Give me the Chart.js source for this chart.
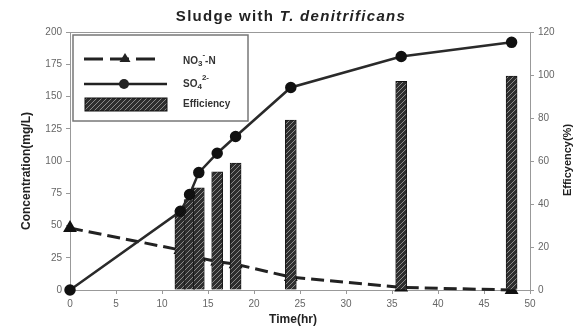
<!DOCTYPE html>
<html>
<head>
<meta charset="utf-8">
<script src="https://cdn.jsdelivr.net/npm/chart.js@4"></script>
<style>
  html, body { margin: 0; padding: 0; background: #fff; }
  #wrap { width: 580px; height: 327px; }
</style>
</head>
<body>
<div id="wrap"><canvas id="sludgeChart" width="580" height="327"></canvas></div>
<script>
// sampling times (hr)
const times = [0, 12, 13, 14, 16, 18, 24, 36, 48];
// nitrate and sulfate concentration (mg/L)
const no3Values = [48, 31, 28, 25, 22, 20, 10, 2, 0];
const so4Values = [0, 61, 74, 91, 106, 119, 157, 181, 192];
// removal efficiency (%), measured from 12 hr on
const effTimes = [12, 13, 14, 16, 18, 24, 36, 48];
const effValues = [37, 42, 47.5, 55, 59, 79, 97, 99.5];

const xTicks = [0, 5, 10, 15, 20, 25, 30, 35, 40, 45, 50];

// hatched fill for the efficiency bars
function makeHatch() {
    const c = document.createElement('canvas');
    c.width = 5; c.height = 5;
    const g = c.getContext('2d');
    g.fillStyle = '#2e2e2e';
    g.fillRect(0, 0, 5, 5);
    g.strokeStyle = '#8a8a8a';
    g.lineWidth = 1;
    g.beginPath();
    g.moveTo(0, 5); g.lineTo(5, 0);
    g.moveTo(-1, 1); g.lineTo(1, -1);
    g.moveTo(4, 6); g.lineTo(6, 4);
    g.stroke();
    return g.createPattern(c, 'repeat');
}

const ctx = document.getElementById('sludgeChart').getContext('2d');
const hatch = makeHatch();

// text with sub/superscript pieces: [text, 'n'|'sub'|'sup']
function drawRich(g, parts, x, y) {
    let cx = x;
    parts.forEach(function (p) {
        const small = p[1] !== 'n';
        g.font = small ? 'bold 8px "Liberation Sans", Arial' : 'bold 10px "Liberation Sans", Arial';
        const dy = p[1] === 'sub' ? 3 : (p[1] === 'sup' ? -6 : 0);
        g.fillText(p[0], cx, y + dy);
        cx += g.measureText(p[0]).width;
    });
}

const decorations = {
    id: 'decorations',
    afterDraw: function (chart) {
        const g = chart.ctx;
        const a = chart.chartArea;
        g.save();

        // top frame line
        g.strokeStyle = '#999';
        g.lineWidth = 1;
        g.beginPath();
        g.moveTo(a.left, a.top + 0.5);
        g.lineTo(a.right, a.top + 0.5);
        g.stroke();

        // title, with the species name in italics
        g.fillStyle = '#222';
        g.textBaseline = 'middle';
        g.letterSpacing = '1.3px';
        const t1 = 'Sludge with ';
        const t2 = 'T. denitrificans';
        g.font = 'bold 15px "Liberation Sans", Arial';
        const w1 = g.measureText(t1).width;
        g.font = 'italic bold 15px "Liberation Sans", Arial';
        const w2 = g.measureText(t2).width;
        const tx = 291 - (w1 + w2) / 2;
        g.font = 'bold 15px "Liberation Sans", Arial';
        g.textAlign = 'left';
        g.fillText(t1, tx, 17);
        g.font = 'italic bold 15px "Liberation Sans", Arial';
        g.fillText(t2, tx + w1, 17);
        g.letterSpacing = '0px';

        // axis titles
        g.font = 'bold 12px "Liberation Sans", Arial';
        g.textAlign = 'center';
        g.fillText('Time(hr)', 293, 320);
        g.save();
        g.translate(27, 171);
        g.rotate(-Math.PI / 2);
        g.fillText('Concentration(mg/L)', 0, 0);
        g.restore();
        g.save();
        g.translate(568, 160);
        g.rotate(-Math.PI / 2);
        g.font = 'bold 11px "Liberation Sans", Arial';
        g.fillText('Efficyency(%)', 0, 0);
        g.restore();

        // legend box
        g.fillStyle = '#fff';
        g.fillRect(73, 35, 175, 86);
        g.strokeStyle = '#777';
        g.lineWidth = 1.5;
        g.strokeRect(73, 35, 175, 86);

        g.strokeStyle = '#222';
        g.fillStyle = '#222';
        g.lineWidth = 3;
        g.setLineDash([19, 7]);
        g.beginPath();
        g.moveTo(84, 59); g.lineTo(158, 59);
        g.stroke();
        g.setLineDash([]);
        g.beginPath();
        g.moveTo(125, 53); g.lineTo(130.5, 62); g.lineTo(119.5, 62);
        g.closePath();
        g.fill();

        g.lineWidth = 2.5;
        g.beginPath();
        g.moveTo(84, 84); g.lineTo(167, 84);
        g.stroke();
        g.beginPath();
        g.arc(124, 84, 5, 0, Math.PI * 2);
        g.fill();

        g.fillStyle = hatch;
        g.fillRect(85, 98, 82, 13);
        g.lineWidth = 1;
        g.strokeStyle = '#111';
        g.strokeRect(85, 98, 82, 13);

        g.fillStyle = '#333';
        g.textAlign = 'left';
        g.textBaseline = 'middle';
        drawRich(g, [['NO', 'n'], ['3', 'sub'], ['-', 'sup'], ['-N', 'n']], 183, 61);
        drawRich(g, [['SO', 'n'], ['4', 'sub'], ['2-', 'sup']], 183, 84);
        drawRich(g, [['Efficiency', 'n']], 183, 104);

        g.restore();
    }
};

const tickFont = { family: '"Liberation Sans", Arial', size: 10 };

new Chart(ctx, {
    data: {
        datasets: [{
            type: 'line',
            label: 'SO4',
            data: times.map(function (t, i) { return { x: t, y: so4Values[i] }; }),
            yAxisID: 'y',
            borderColor: '#2a2a2a',
            borderWidth: 2.5,
            pointRadius: 4.5,
            pointStyle: 'circle',
            pointBackgroundColor: '#111',
            pointBorderColor: '#111',
            tension: 0,
            clip: false,
            order: 0
        }, {
            type: 'bar',
            label: 'Efficiency',
            data: effTimes.map(function (t, i) { return { x: t, y: effValues[i] }; }),
            yAxisID: 'y2',
            backgroundColor: hatch,
            borderColor: '#111',
            borderWidth: 0.8,
            barThickness: 11,
            order: 1
        }, {
            type: 'line',
            label: 'NO3-N',
            data: times.map(function (t, i) { return { x: t, y: no3Values[i] }; }),
            yAxisID: 'y',
            borderColor: '#222',
            borderWidth: 3,
            borderDash: [13, 6],
            pointRadius: 5,
            pointStyle: 'triangle',
            pointBackgroundColor: '#111',
            pointBorderColor: '#111',
            tension: 0,
            clip: false,
            order: 2
        }]
    },
    options: {
        responsive: false,
        animation: false,
        layout: { padding: { top: 32, left: 0, right: 0, bottom: 0 } },
        scales: {
            x: {
                type: 'linear',
                offset: false,
                min: 0,
                max: 50,
                afterBuildTicks: function (scale) {
                    scale.ticks = xTicks.map(function (v) { return { value: v }; });
                },
                afterFit: function (scale) { scale.height = 37; },
                grid: { drawOnChartArea: false, tickLength: 4, color: '#999', offset: false },
                border: { color: '#999', width: 1 },
                ticks: { font: tickFont, color: '#666', padding: 4, maxRotation: 0 }
            },
            y: {
                position: 'left',
                min: 0,
                max: 200,
                afterFit: function (scale) { scale.width = 70; },
                grid: { drawOnChartArea: false, tickLength: 4, color: '#999' },
                border: { color: '#999', width: 1 },
                ticks: { stepSize: 25, font: tickFont, color: '#666', padding: 4 }
            },
            y2: {
                position: 'right',
                min: 0,
                max: 120,
                afterFit: function (scale) { scale.width = 50; },
                grid: { drawOnChartArea: false, tickLength: 4, color: '#999' },
                border: { color: '#999', width: 1 },
                ticks: { stepSize: 20, font: tickFont, color: '#666', padding: 4 }
            }
        },
        plugins: {
            legend: { display: false },
            title: { display: false },
            tooltip: { enabled: false }
        }
    },
    plugins: [decorations]
});
</script>
</body>
</html>
